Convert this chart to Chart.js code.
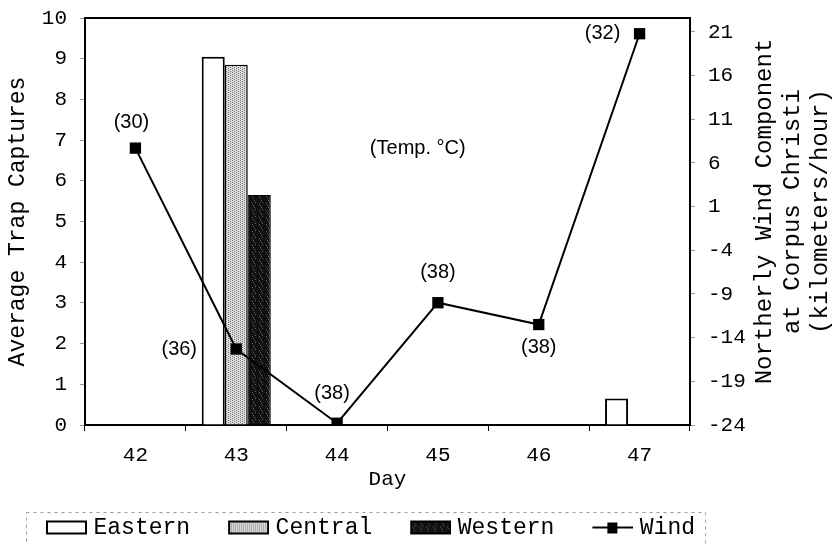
<!DOCTYPE html>
<html lang="en">
<head>
<meta charset="UTF-8">
<title>Trap Captures and Northerly Wind</title>
<script src="https://cdn.jsdelivr.net/npm/chart.js"></script>
<style>
  body { margin: 0; background: #fff; }
  canvas { display: block; }
</style>
</head>
<body>
<canvas id="trapChart" width="838" height="544"></canvas>
<script>
const days = ['42', '43', '44', '45', '46', '47'];
const eastern = [0, 9.05, 0, 0, 0, 0.65];
const central = [0, 8.85, 0, 0, 0, 0];
const western = [0, 5.65, 0, 0, 0, 0];
const wind = [7.7, -15.3, -23.8, -10.0, -12.5, 20.8];
const temps = [30, 36, 38, 38, 38, 32];
const windTicks = [-24, -19, -14, -9, -4, 1, 6, 11, 16, 21];
const rightTitle = ['Northerly Wind Component', 'at Corpus Christi', '(kilometers/hour)'];

// where each (temp) label sits relative to its wind marker
const tempOffsets = [[-4, -26], [-57, 0], [-5, -30], [0, -30], [0, 23], [-37, 0]];

const mono = '"Liberation Mono", "Courier New", monospace';
const sans = '"Liberation Sans", Arial, sans-serif';

Chart.defaults.font.family = mono;
Chart.defaults.color = '#000';

// stippled fills for the shaded bars
function stipple(size, base, dot, hit) {
  const c = document.createElement('canvas');
  c.width = size; c.height = size;
  const g = c.getContext('2d');
  g.fillStyle = base;
  g.fillRect(0, 0, size, size);
  g.fillStyle = dot;
  for (let x = 0; x < size; x++) {
    for (let y = 0; y < size; y++) {
      if (hit(x, y)) g.fillRect(x, y, 1, 1);
    }
  }
  return g.createPattern(c, 'repeat');
}
const grayFill = stipple(4, '#dcdcdc', '#777', (x, y) => (x + 2 * y) % 4 === 0);
const darkFill = stipple(7, '#111', '#6a6a6a', (x, y) => (x * 3 + y * 5) % 13 === 0);

// legend swatches, drawn into small canvases used as point styles
function swatch(fill, asLine) {
  const c = document.createElement('canvas');
  c.width = 74; c.height = 16;
  const g = c.getContext('2d');
  if (asLine) {
    g.strokeStyle = '#000';
    g.lineWidth = 2;
    g.beginPath(); g.moveTo(33, 8); g.lineTo(74, 8); g.stroke();
    g.fillStyle = '#000';
    g.fillRect(48, 3, 10, 11);
  } else {
    g.fillStyle = fill;
    g.fillRect(34, 2, 39, 12);
    g.strokeStyle = '#000';
    g.lineWidth = 2;
    g.strokeRect(34, 2, 39, 12);
  }
  return c;
}
const swatches = [swatch('#fff'), swatch(grayFill), swatch(darkFill), swatch(null, true)];

// vertical scales: drop the extra label padding so the plot keeps its height
function noLabelPadding(scale, width) {
  scale.width = width;
  scale.paddingTop = 0;
  scale.paddingBottom = 0;
}

const extras = {
  id: 'extras',
  afterDatasetsDraw(chart) {
    const {ctx, chartArea: a} = chart;
    ctx.save();
    // top edge of the plot frame
    ctx.strokeStyle = '#000';
    ctx.lineWidth = 2;
    ctx.beginPath();
    ctx.moveTo(a.left, a.top);
    ctx.lineTo(a.right, a.top);
    ctx.stroke();

    // temperatures next to the wind markers
    ctx.fillStyle = '#000';
    ctx.font = '20px ' + sans;
    ctx.textAlign = 'center';
    ctx.textBaseline = 'middle';
    chart.getDatasetMeta(3).data.forEach((pt, i) => {
      const [dx, dy] = tempOffsets[i];
      ctx.fillText('(' + temps[i] + ')', pt.x + dx, pt.y + dy);
    });
    ctx.fillText('(Temp. \u00B0C)', a.left + a.width * 0.55, a.top + 130);
    ctx.restore();
  },
  afterDraw(chart) {
    const {ctx, chartArea: a} = chart;
    const y1 = chart.scales.y1;
    ctx.save();
    // right axis title, three lines reading bottom to top
    ctx.fillStyle = '#000';
    ctx.font = '24px ' + mono;
    ctx.textAlign = 'center';
    ctx.textBaseline = 'middle';
    ctx.translate(y1.left + 75, (a.top + a.bottom) / 2 - 10);
    ctx.rotate(-Math.PI / 2);
    rightTitle.forEach((t, i) => ctx.fillText(t, 0, i * 28));
    ctx.restore();

    // faint dashed frame round the legend, running off the bottom edge
    const boxes = chart.legend.legendHitBoxes;
    if (boxes && boxes.length) {
      const first = boxes[0], last = boxes[boxes.length - 1];
      ctx.save();
      ctx.strokeStyle = '#9a9a9a';
      ctx.lineWidth = 1;
      ctx.setLineDash([3, 4]);
      ctx.strokeRect(first.left + 8.5, first.top - 3.5, last.left + last.width + 10 - first.left - 8, 60);
      ctx.restore();
    }
  }
};

new Chart(document.getElementById('trapChart'), {
  type: 'bar',
  data: {
    labels: days,
    datasets: [
      { label: 'Eastern', data: eastern, backgroundColor: '#fff', borderColor: '#000', borderWidth: 2, order: 1, yAxisID: 'y' },
      { label: 'Central', data: central, backgroundColor: grayFill, borderColor: '#000', borderWidth: 1.5, order: 1, yAxisID: 'y' },
      { label: 'Western', data: western, backgroundColor: darkFill, borderColor: '#000', borderWidth: 1, order: 1, yAxisID: 'y' },
      {
        type: 'line', label: 'Wind', data: wind, yAxisID: 'y1', order: 0,
        borderColor: '#000', borderWidth: 2, tension: 0,
        pointStyle: 'rect', pointRadius: 8, pointBackgroundColor: '#000', pointBorderColor: '#000', pointBorderWidth: 0
      }
    ]
  },
  options: {
    responsive: false,
    animation: false,
    devicePixelRatio: 1,
    layout: { padding: { top: 18, left: 8, right: 0, bottom: -5 } },
    datasets: { bar: { barPercentage: 1, categoryPercentage: 0.685 } },
    plugins: {
      tooltip: { enabled: false },
      legend: {
        position: 'bottom',
        align: 'start',
        labels: {
          usePointStyle: true,
          pointStyleWidth: 64,
          padding: 10,
          color: '#000',
          font: { family: mono, size: 23 },
          generateLabels(chart) {
            const items = Chart.defaults.plugins.legend.labels.generateLabels(chart);
            items.sort((p, q) => p.datasetIndex - q.datasetIndex);
            items.forEach(it => { it.pointStyle = swatches[it.datasetIndex]; });
            return items;
          }
        }
      }
    },
    scales: {
      x: {
        afterFit(scale) { scale.height = 81; },
        grid: { display: true, drawOnChartArea: false, tickLength: 6, color: '#000' },
        border: { color: '#000', width: 2 },
        ticks: { font: { size: 21 }, padding: 12, color: '#000' },
        title: { display: true, text: 'Day', font: { size: 21 }, padding: { top: 0, bottom: 14 } }
      },
      y: {
        position: 'left',
        min: 0,
        max: 10,
        afterFit(scale) { noLabelPadding(scale, 77); },
        grid: { display: true, drawOnChartArea: false, tickLength: 5, color: '#999' },
        border: { color: '#000', width: 2 },
        ticks: { stepSize: 1, font: { size: 21 }, padding: 13, color: '#000' },
        title: { display: true, text: 'Average Trap Captures', font: { size: 23, lineHeight: 1 }, padding: { top: -1.5, bottom: 0 } }
      },
      y1: {
        position: 'right',
        min: -24,
        max: 22.6,
        afterFit(scale) { noLabelPadding(scale, 148); },
        afterBuildTicks(scale) { scale.ticks = windTicks.map(v => ({ value: v })); },
        grid: { display: true, drawOnChartArea: false, tickLength: 5, color: '#999' },
        border: { color: '#000', width: 2 },
        ticks: { font: { size: 21 }, padding: 13, color: '#000' }
      }
    }
  },
  plugins: [extras]
});
</script>
</body>
</html>
